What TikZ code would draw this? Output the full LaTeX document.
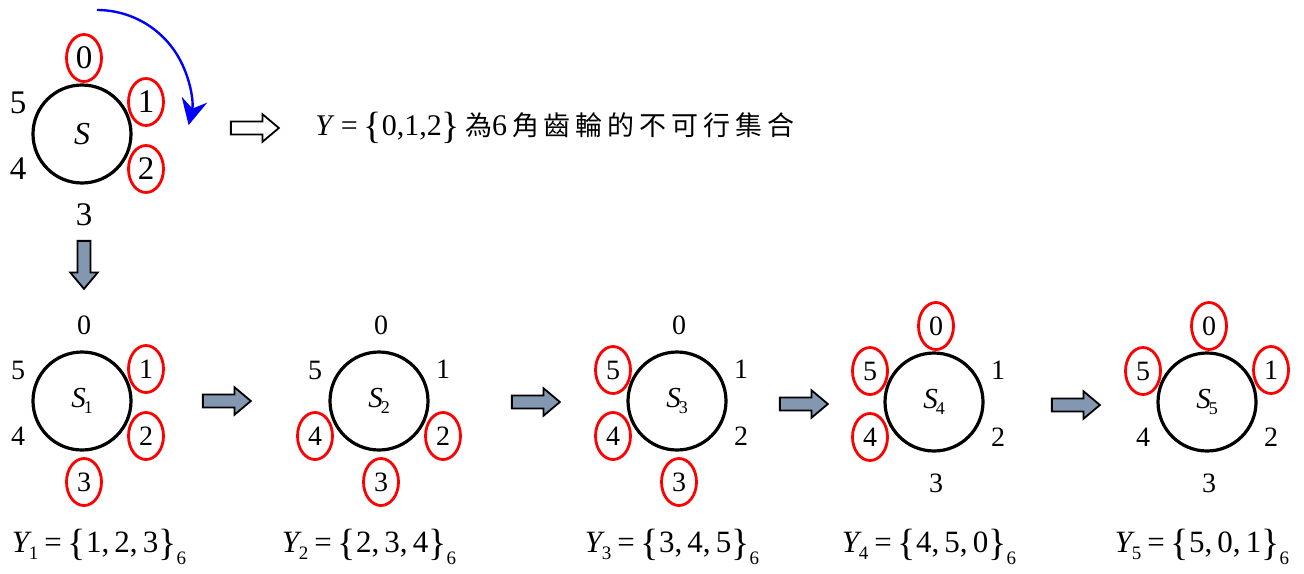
\documentclass[tikz,border=0pt]{standalone}
\usepackage{fontspec}
\setmainfont{Liberation Serif}
\newfontfamily\cjk[LetterSpace=18]{Noto Sans CJK TC}
\usetikzlibrary{calc,shapes.geometric,shapes.arrows,arrows.meta}
\definecolor{slate}{RGB}{132,151,176}

% set label: Y_i = {a,b,c}_6
\newcommand{\bigbrace}[1]{\raisebox{-1.5pt}{\fontsize{19}{19}\selectfont#1}}
\newcommand{\Yset}[2]{\textit{Y}\kern-1.5pt\raisebox{-3.5pt}{\fontsize{9.5}{9.5}\selectfont#1}%
  \kern3pt=\kern3pt\bigbrace{\{}#2\bigbrace{\}}\raisebox{-6pt}{\fontsize{9.5}{9.5}\selectfont 6}}
\newcommand{\Sname}[1]{\textit{S}\kern-1pt\raisebox{-3pt}{\fontsize{9}{9}\selectfont#1}}

\begin{document}
\begin{tikzpicture}[x=0.5pt,y=-0.5pt,
  wheel/.style={circle,draw,line width=1.6pt,minimum size=49pt,inner sep=0pt},
  tooth/.style={inner sep=0pt},
  badring/.style={ellipse,draw=red,line width=1.4pt,minimum width=17.5pt,minimum height=23.5pt,inner sep=0pt},
  blockarrow/.style={single arrow,draw,line width=0.9pt,fill=slate,minimum height=24pt,
    inner sep=2.8pt,single arrow head extend=3.6pt,single arrow tip angle=80}]
\useasboundingbox (0,0) rectangle (1304,573);

% the gear and its turned copies
\node[wheel,font=\fontsize{16}{16}\selectfont\itshape] (S) at (82,134) {S};
\node[wheel,font=\fontsize{14.5}{14.5}\selectfont] (S1) at (82,401) {\Sname{1}};
\node[wheel,font=\fontsize{14.5}{14.5}\selectfont] (S2) at (379,401) {\Sname{2}};
\node[wheel,font=\fontsize{14.5}{14.5}\selectfont] (S3) at (677,401) {\Sname{3}};
\node[wheel,font=\fontsize{14.5}{14.5}\selectfont] (S4) at (934,402) {\Sname{4}};
\node[wheel,font=\fontsize{14.5}{14.5}\selectfont] (S5) at (1207,402) {\Sname{5}};

% teeth numbers
\foreach \g/\sz in {S/16.5,S1/14,S2/14,S3/14,S4/14,S5/14}
  \foreach \d/\dx/\dy in {0/2/-76,1/64/-32,2/64/35,3/2/81,4/-64/35,5/-64/-31}
    \node[tooth,font=\fontsize{\sz}{\sz}\selectfont] (\g-\d) at ($(\g)+(\dx,\dy)$) {\d};

% infeasible teeth
\foreach \g/\list in {S/{0,1,2},S1/{1,2,3},S2/{2,3,4},S3/{3,4,5},S4/{4,5,0},S5/{5,0,1}}
  \foreach \d in \list
    \node[badring] (\g-\d-ring) at (\g-\d) {};

% rotation
\coordinate (spin-a) at (97,10);
\draw[blue,line width=1.2pt,-{Stealth[length=13pt,width=13pt,inset=4.5pt]}] (spin-a) arc[start angle=-90,end angle=13,radius=94];

\node[blockarrow,fill=white] (imply) at (251,128) {};
\node[anchor=west,inner sep=0pt,font=\fontsize{15}{15}\selectfont] (Ytext) at (315,128)
  {\textit{Y}\kern3pt=\kern3pt\bigbrace{\{}0,1,2\bigbrace{\}}\,{\cjk\fontsize{13.5}{15}\selectfont 為}6\,{\cjk\fontsize{13.5}{15}\selectfont 角齒輪的不可行集合}};

\node[blockarrow,shape border rotate=270] (down) at (84,261) {};
\node[blockarrow] (step1) at (223,401) {};
\node[blockarrow] (step2) at (532,402) {};
\node[blockarrow] (step3) at (800,404) {};
\node[blockarrow] (step4) at (1072,405) {};

% sets
\foreach \i/\x/\list in {1/99/{1,\,2,\,3},2/369/{2,\,3,\,4},3/672/{3,\,4,\,5},4/929/{4,\,5,\,0},5/1202/{5,\,0,\,1}}
  \node[font=\fontsize{15.5}{16}\selectfont] (Y\i) at (\x,547) {\Yset{\i}{\list}};
\end{tikzpicture}
\end{document}
